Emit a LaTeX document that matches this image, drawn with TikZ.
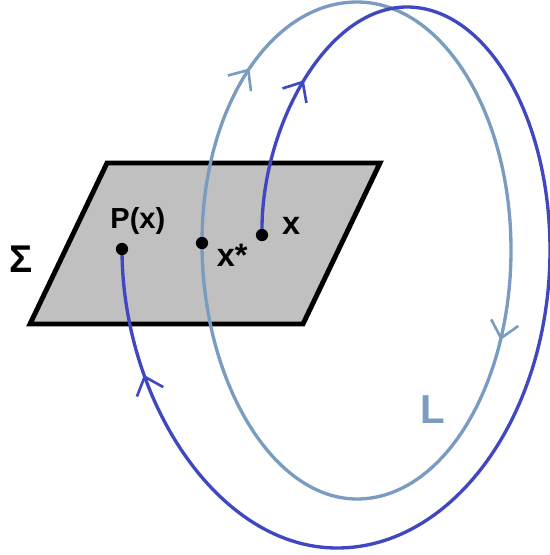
\documentclass[tikz,border=0pt]{standalone}
\usepackage{xcolor}
\usepackage{fontspec}
\setmainfont{Liberation Sans}
\usetikzlibrary{arrows.meta,positioning,decorations.markings}
\definecolor{orbitL}{HTML}{7A9CC0}
\definecolor{orbitx}{HTML}{3F48C0}
\definecolor{planegray}{HTML}{C0C0C0}
\tikzset{
  plane/.style={draw=black, line width=2.8pt, fill=planegray, miter limit=2},
  dot/.style={circle, fill=black, inner sep=0pt, minimum width=6.5pt, minimum height=7pt},
  lab/.style={inner sep=0pt, font=\fontsize{18.5}{20}\selectfont\bfseries},
  orbit/.style={line width=1.9pt, postaction={decorate}},
  marks/.style n args={2}{decoration={markings,
    mark=at position #1 with {\arrow{Straight Barb[length=3.2mm,width=5.6mm,line width=1.5pt]}},
    mark=at position #2 with {\arrow{Straight Barb[length=3.2mm,width=5.6mm,line width=1.5pt]}}}}
}
\begin{document}
\begin{tikzpicture}[x=0.02cm,y=-0.02cm]
  \useasboundingbox (0,0) rectangle (550,555);
  \coordinate (tl) at (107,163);
  \coordinate (tr) at (380,163);
  \coordinate (br) at (303,324);
  \coordinate (bl) at (30,324);
  \draw[plane] (tl) -- (tr) -- (br) -- (bl) -- cycle;

  \coordinate (ptx) at (262,235);
  \coordinate (ptxstar) at (202,243);
  \coordinate (ptpx) at (122,249);

  \draw[orbit, orbitL, marks={0.143}{0.566}] (ptxstar) .. controls (202,106) and (272,2) .. (357,2)
    .. controls (442,2) and (511,113) .. (511,250)
    .. controls (511,387) and (442,499) .. (357,499)
    .. controls (272,499) and (202,380) .. (ptxstar);
  \draw[orbit, orbitx, marks={0.115}{0.909}] (ptx) .. controls (260,130) and (325,7) .. (407,7)
    .. controls (486,7) and (550,116) .. (550,250)
    .. controls (550,414) and (454,548) .. (337,548)
    .. controls (218,548) and (122,400) .. (ptpx);

  \node[dot] (x) at (ptx) {};
  \node[dot] (xstar) at (ptxstar) {};
  \node[dot] (px) at (ptpx) {};

  \node[lab, right=7.5pt of x, yshift=5pt] (xlab) {x};
  \node[lab, right=4.5pt of xstar, yshift=-7pt] (xstarlab) {x*};
  \node[lab, above=4.5pt of px, xshift=9pt, font=\fontsize{16.5}{18}\selectfont\bfseries] (pxlab) {P(x)};
  \node[lab, font=\fontsize{22}{24}\selectfont\bfseries] (sigma) at (21,259) {Σ};
  \node[lab, orbitL, font=\fontsize{23}{25}\selectfont\bfseries] (L) at (433,410) {L};
\end{tikzpicture}
\end{document}
